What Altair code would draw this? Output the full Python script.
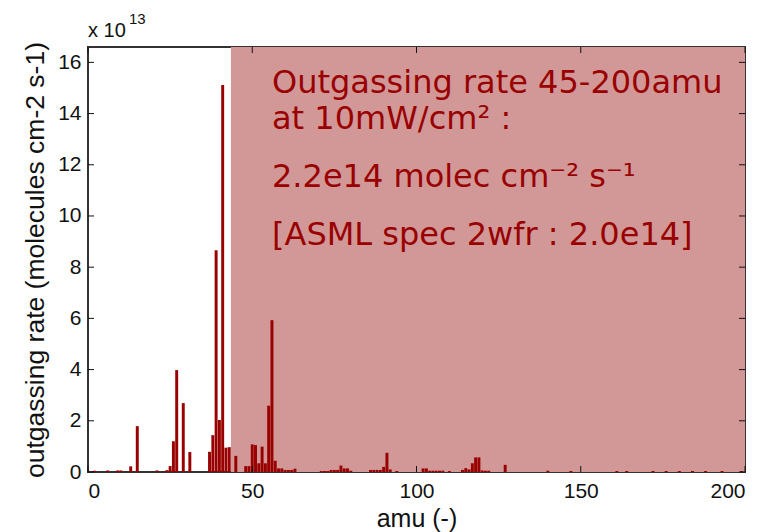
import altair as alt
import pandas as pd

# ---- data ----
amu = [2, 6, 9, 10, 13, 15, 21, 24, 25, 26, 27, 29, 31, 37, 38, 39, 40, 41, 42, 43,
       45, 48, 49, 50, 51, 52, 53, 54, 55, 56, 57, 58, 59, 60, 61, 62, 63,
       71, 72, 73, 74, 75, 76, 77, 78, 79, 80, 86, 87, 88, 89, 90, 91, 92, 94,
       102, 103, 104, 105, 106, 107, 108, 110, 114, 115, 116, 117, 118, 119, 120, 121, 122,
       127, 140, 147, 161, 164, 172, 176, 180, 184, 188, 193, 199]
rate = [0.05, 0.06, 0.06, 0.06, 0.22, 1.79, 0.06, 0.07, 0.23, 1.20, 3.98, 2.69, 0.78, 0.79, 1.44, 8.66, 2.03, 15.12, 0.95, 0.97,
        0.63, 0.23, 0.23, 1.08, 1.05, 0.34, 0.99, 0.34, 2.59, 5.93, 0.44, 0.14, 0.14, 0.08, 0.08, 0.08, 0.13,
        0.04, 0.04, 0.04, 0.08, 0.08, 0.08, 0.25, 0.14, 0.14, 0.05, 0.08, 0.08, 0.08, 0.08, 0.20, 0.75, 0.10, 0.04,
        0.14, 0.14, 0.05, 0.05, 0.05, 0.05, 0.05, 0.04, 0.08, 0.15, 0.10, 0.34, 0.57, 0.57, 0.06, 0.05, 0.05,
        0.28, 0.05, 0.04, 0.04, 0.04, 0.04, 0.04, 0.04, 0.04, 0.04, 0.04, 0.04]

x_ticks = [0, 50, 100, 150, 200]
y_ticks = [0, 2, 4, 6, 8, 10, 12, 14, 16]
x_domain = [0, 200]
y_domain = [0, 16.6]
hatch_range = [43.5, 200]

text_lines = ["Outgassing rate 45-200amu", "at 10mW/cm\u00b2 :",
              "2.2e14 molec cm\u207b\u00b2 s\u207b\u00b9", "[ASML spec 2wfr : 2.0e14]"]

W, H = 657, 425
RED = "#990000"
FONT = "Liberation Sans"

xs = alt.Scale(domain=x_domain, nice=False, zero=False)
ys = alt.Scale(domain=y_domain, nice=False)

xaxis = alt.Axis(values=x_ticks, title="amu (-)", ticks=False, domain=False, grid=False,
                 labelFont=FONT, labelFontSize=21, labelColor="#111111", labelPadding=8,
                 titleFont=FONT, titleFontSize=25, titleFontWeight="normal", titleColor="#111111",
                 titlePadding=5, format="d")
yaxis = alt.Axis(values=y_ticks, title="outgassing rate (molecules cm-2 s-1)", ticks=False,
                 domain=False, grid=False,
                 labelFont=FONT, labelFontSize=21, labelColor="#111111", labelPadding=7,
                 titleFont=FONT, titleFontSize=26.5, titleFontWeight="normal", titleColor="#111111",
                 titlePadding=8, format="d")

bars_df = pd.DataFrame({"amu": amu, "rate": rate})
hatch_df = pd.DataFrame({"x0": [hatch_range[0]], "x1": [hatch_range[1]],
                         "y0": [y_domain[0]], "y1": [y_domain[1]]})
xt_df = pd.DataFrame({"v": x_ticks})
yt_df = pd.DataFrame({"v": y_ticks})

hatch = alt.Chart(hatch_df).mark_rect(color="#d29898").encode(
    x=alt.X("x0:Q", scale=xs, axis=xaxis), x2="x1",
    y=alt.Y("y0:Q", scale=ys, axis=yaxis), y2="y1")

bars = alt.Chart(bars_df).transform_calculate(
    a0="datum.amu - 0.45", a1="datum.amu + 0.45"
).mark_rect(color=RED).encode(
    x=alt.X("a0:Q", scale=xs, axis=xaxis), x2="a1:Q",
    y=alt.Y("rate:Q", scale=ys, axis=yaxis), y2=alt.datum(0))

tick_l = alt.Chart(yt_df).mark_rule(color="#111111", strokeWidth=1).encode(
    y=alt.Y("v:Q", scale=ys, axis=yaxis), x=alt.value(0), x2=alt.value(6))
tick_r = alt.Chart(yt_df).mark_rule(color="#111111", strokeWidth=1).encode(
    y=alt.Y("v:Q", scale=ys, axis=yaxis), x=alt.value(W), x2=alt.value(W - 6))
tick_b = alt.Chart(xt_df).mark_rule(color="#111111", strokeWidth=1).encode(
    x=alt.X("v:Q", scale=xs, axis=xaxis), y=alt.value(H), y2=alt.value(H - 6))
tick_t = alt.Chart(xt_df).mark_rule(color="#111111", strokeWidth=1).encode(
    x=alt.X("v:Q", scale=xs, axis=xaxis), y=alt.value(0), y2=alt.value(6))

line_y = [46, 82, 140, 198]
texts = []
for t, yy in zip(text_lines, line_y):
    texts.append(alt.Chart(pd.DataFrame({"t": [t]})).mark_text(
        align="left", baseline="alphabetic", font="DejaVu Sans", fontSize=32, color=RED
    ).encode(text="t:N", x=alt.value(184), y=alt.value(yy)))

exp_base = alt.Chart(pd.DataFrame({"t": ["x 10"]})).mark_text(
    align="left", baseline="alphabetic", font=FONT, fontSize=20, color="#111111"
).encode(text="t:N", x=alt.value(0), y=alt.value(-10))
exp_pow = alt.Chart(pd.DataFrame({"t": ["13"]})).mark_text(
    align="left", baseline="alphabetic", font=FONT, fontSize=15, color="#111111"
).encode(text="t:N", x=alt.value(41), y=alt.value(-23))

chart = alt.layer(hatch, bars, tick_l, tick_r, tick_b, tick_t, *texts, exp_base, exp_pow).properties(
    width=W, height=H,
    autosize=alt.AutoSizeParams(type="none"),
    padding={"left": 80, "top": 39, "right": 25, "bottom": 60},
    background="white",
).configure_view(stroke="#333333", strokeWidth=2)

chart.save("out.html", embed_options={"renderer": "svg", "actions": False})
